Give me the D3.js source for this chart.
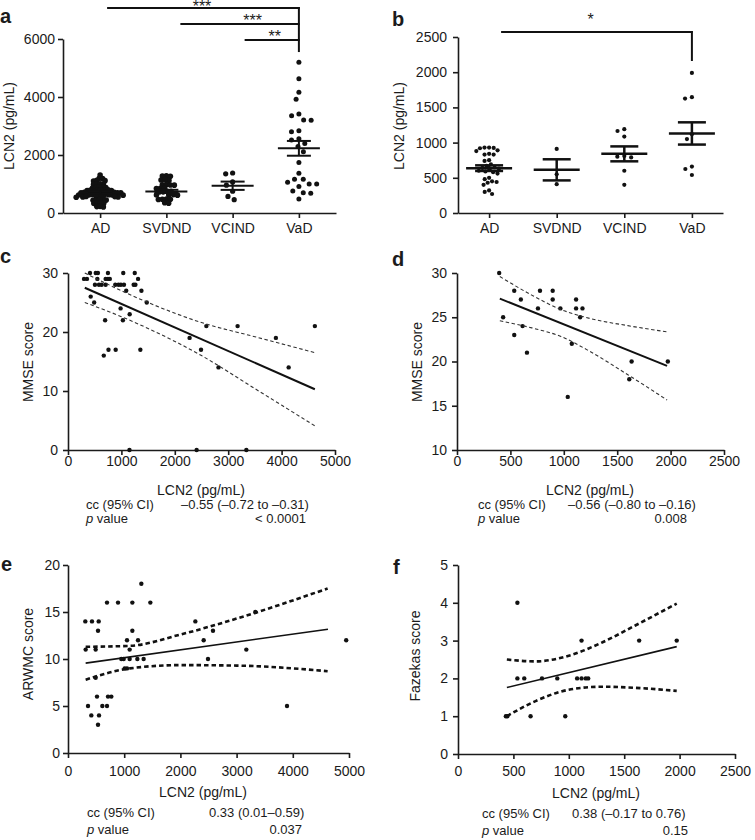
<!DOCTYPE html>
<html><head><meta charset="utf-8">
<script src="https://cdn.jsdelivr.net/npm/d3@7"></script>
<style>
body{margin:0;background:#fff;}
svg text{font-family:"Liberation Sans",Arial,Helvetica,sans-serif;fill:#1b1b1b;}
</style></head><body>
<svg id="chart" width="755" height="840"></svg>
<script>
// ---------------- DATA ----------------
const groups = ["AD", "SVDND", "VCIND", "VaD"];

// panel a : LCN2 (pg/mL) per group
const aAD = [1310, 1190, 1200, 1105, 1115, 1125, 990, 1000, 1005, 1010, 870, 880, 885, 890, 900,
  770, 775, 780, 785, 790, 795, 800, 690, 695, 700, 705, 710, 715, 720, 700,
  610, 615, 620, 625, 630, 635, 640, 620, 545, 550, 555, 560, 565, 570, 575,
  440, 445, 450, 455, 460, 330, 335, 340, 350, 210, 220, 230];
const aSVDND = [1280, 1265, 1275, 1140, 1125, 1150, 975, 960, 985, 965, 855, 860, 845,
  745, 730, 750, 725, 625, 635, 615, 620, 480, 470, 465, 475, 355, 335];
const aVCIND = [1350, 1380, 1070, 960, 750, 570, 460];
const aVaD = [5200, 4630, 4160, 3920, 3410, 3210, 3200, 3350, 2800, 2840, 2520, 2560, 2400, 2290,
  2110, 1740, 1370, 1060, 1000, 1160, 1000, 1160, 910, 700, 680, 760, 480];
const aMean = [711, 745, 940, 2230];
const aSem = [40, 55, 143, 255];
const aTicks = [0, 2000, 4000, 6000];
const aSigFrom = ["AD", "SVDND", "VCIND"];
const aSigTo = "VaD";
const aSigLabel = ["***", "***", "**"];
const aSigLevel = [7070, 6520, 5965];
const aSigDrop = 5550;

// panel b
const bAD = [930, 930, 925, 920, 890, 880, 840, 830, 830, 750, 740, 690, 670, 650, 640, 630, 620,
  600, 590, 580, 560, 500, 480, 450, 440, 430, 400, 320, 300, 270];
const bSVDND = [910, 550, 410];
const bVCIND = [1165, 1190, 1085, 810, 790, 800, 600, 400];
const bVaD = [1990, 1625, 1645, 1120, 1050, 660, 625, 540];
const bMean = [637, 613, 840, 1130];
const bSem = [40, 150, 106, 158];
const bTicks = [0, 500, 1000, 1500, 2000, 2500];
const bSigFrom = ["AD"];
const bSigTo = "VaD";
const bSigLabel = ["*"];
const bSigLevel = [2571];
const bSigDrop = 2159;

// panel c : MMSE vs LCN2
const cLCN2 = [505, 580, 630, 705, 885, 945, 990, 1048, 1230, 1262,
  300, 355, 550, 705, 748, 783, 1312,
  412, 520, 560, 748, 1035, 1250,
  1090, 1375, 425, 490, 1475, 985, 1155, 695, 1028,
  758, 893, 1355, 2491, 670, 1151, 2409, 3340, 2277, 3893, 2591, 3176, 4623, 2818, 4132];
const cMMSE = [28, 28, 28, 28, 28, 28, 28, 28, 28, 28,
  29, 29, 29, 29, 29, 29, 29,
  30, 30, 30, 30, 30, 30,
  27, 27, 26, 25, 25, 24, 23, 22, 22,
  17, 17, 17, 17, 16, 0, 0, 0, 19, 19, 21, 21, 21, 14, 14];
const cFitX = [314, 4623];
const cFitY = [27.5, 10.3];
const cCiX = [314, 1000, 1500, 2500, 3500, 4623];
const cCiUpper = [30.0, 27.0, 25.0, 21.6, 19.2, 16.5];
const cCiLower = [25.0, 22.6, 20.6, 16.0, 10.4, 4.1];
const cXTicks = [0, 1000, 2000, 3000, 4000, 5000];
const cYTicks = [0, 10, 20, 30];
const cStats = ["cc (95% CI)", "\u20130.55 (\u20130.72 to \u20130.31)", "< 0.0001"];

// panel d
const dLCN2 = [395, 432, 536, 536, 598, 614, 655, 758, 777, 896, 896, 968, 1037, 1075, 1115, 1115,
  1153, 1175, 1613, 1635, 1974];
const dMMSE = [30, 25, 28, 23, 27, 24, 21, 26, 28, 28, 27, 26, 16, 22, 27, 26, 25, 26, 18, 20, 20];
const dFitX = [401, 1967];
const dFitY = [27.1, 19.5];
const dCiX = [401, 700, 968, 1250, 1600, 1967];
const dCiUpper = [29.6, 27.5, 25.9, 24.85, 24.05, 23.35];
const dCiLower = [24.6, 23.8, 22.85, 21.1, 18.5, 15.65];
const dXTicks = [0, 500, 1000, 1500, 2000, 2500];
const dYTicks = [10, 15, 20, 25, 30];
const dStats = ["cc (95% CI)", "\u20130.56 (\u20130.80 to \u20130.16)", "0.008"];

// panel e : ARWMC vs LCN2
const eLCN2 = [1305, 694, 890, 1145, 1465, 308, 427, 546, 534, 1145, 1050, 1246, 314, 492, 1097,
  949, 991, 1097, 1234, 1346, 1050, 1008, 492, 516, 712, 771, 356, 611, 694, 415, 552, 534,
  2266, 2414, 2580, 2491, 3173, 3333, 3897, 4950];
const eARWMC = [18, 16, 16, 16, 16, 14, 14, 14, 13, 13, 12, 12, 11, 11, 11,
  10, 10, 10, 10, 10, 9, 9, 8, 6, 6, 6, 5, 5, 5, 4, 4, 3,
  14, 12, 13, 10, 11, 15, 5, 12];
const eFitX = [314, 4626];
const eFitY = [9.56, 13.17];
const eCiX = [314, 1100, 2000, 3000, 4620];
const eCiUpper = [11.3, 11.4, 12.6, 14.3, 17.5];
const eCiLower = [7.8, 9.0, 9.35, 9.3, 8.7];
const eXTicks = [0, 1000, 2000, 3000, 4000, 5000];
const eYTicks = [0, 5, 10, 15, 20];
const eStats = ["cc (95% CI)", "0.33 (0.01\u20130.59)", "0.037"];

// panel f : Fazekas vs LCN2
const fLCN2 = [432, 445, 655, 968, 536, 536, 598, 758, 896, 1075, 1115, 1153, 1175, 1115, 1635, 1974];
const fFazekas = [1, 1, 1, 1, 4, 2, 2, 2, 2, 2, 2, 2, 2, 3, 3, 3];
const fFitX = [441, 1974];
const fFitY = [1.76, 2.84];
const fCiX = [441, 700, 1000, 1300, 1600, 1974];
const fCiUpper = [2.5, 2.45, 2.6, 2.95, 3.4, 3.98];
const fCiLower = [1.0, 1.4, 1.7, 1.78, 1.75, 1.67];
const fXTicks = [0, 500, 1000, 1500, 2000, 2500];
const fYTicks = [0, 1, 2, 3, 4, 5];
const fStats = ["cc (95% CI)", "0.38 (\u20130.17 to 0.76)", "0.15"];

// ---------------- DRAWING ----------------
const svg = d3.select("#chart");
const ink = "#1b1b1b";

function styleAxis(g, fs) {
  g.attr("font-size", null).attr("font-family", null);
  g.selectAll(".domain").attr("stroke", ink).attr("stroke-width", 1.6);
  g.selectAll(".tick line").attr("stroke", ink).attr("stroke-width", 1.6);
  g.selectAll(".tick text").attr("fill", ink).style("font-size", fs + "px");
}
function letter(t, x, y) {
  svg.append("text").attr("x", x).attr("y", y).style("font-size", "20px").style("font-weight", "bold").text(t);
}
function yTitle(t, x, y) {
  svg.append("text").attr("transform", `translate(${x},${y}) rotate(-90)`)
    .attr("text-anchor", "middle").style("font-size", "14px").text(t);
}
function xTitle(t, x, y) {
  svg.append("text").attr("x", x).attr("y", y).attr("text-anchor", "middle").style("font-size", "14px").text(t);
}

function swarm(ys, D) {
  const order = d3.range(ys.length).sort((i, j) => ys[i] - ys[j]);
  const placed = [], xs = new Array(ys.length);
  for (const i of order) {
    const y = ys[i], ints = [];
    for (const p of placed) {
      const dy = Math.abs(p.y - y);
      if (dy < D) { const w = Math.sqrt(D * D - dy * dy); ints.push([p.x - w, p.x + w]); }
    }
    const cands = [0];
    ints.forEach(([a, b]) => cands.push(a, b));
    cands.sort((a, b) => Math.abs(a) - Math.abs(b) || a - b);
    let best = 0;
    for (const c of cands) {
      if (ints.every(([a, b]) => c <= a + 1e-6 || c >= b - 1e-6)) { best = c; break; }
    }
    xs[i] = best; placed.push({ x: best, y });
  }
  return xs;
}

function catPanel(o) {
  const x = d3.scalePoint().domain(groups).range(o.xRange).padding(o.pad);
  const y = d3.scaleLinear().domain(o.yDomain).range(o.yRange);
  const g = svg.append("g");
  const ya = g.append("g").attr("transform", `translate(${o.xRange[0]},0)`)
    .call(d3.axisLeft(y).tickValues(o.yTicks).tickSize(5).tickSizeOuter(0).tickPadding(o.yPad).tickFormat(d3.format("d")));
  styleAxis(ya, 14);
  const xa = g.append("g").attr("transform", `translate(0,${o.yRange[0]})`)
    .call(d3.axisBottom(x).tickSize(5).tickSizeOuter(0).tickPadding(o.xPad));
  styleAxis(xa, 14);
  // dots
  o.data.forEach((vals, i) => {
    const ys = vals.map(v => y(v));
    const xs = swarm(ys, o.D[i]);
    g.append("g").selectAll("circle").data(vals).join("circle")
      .attr("cx", (d, k) => x(groups[i]) + xs[k]).attr("cy", (d, k) => ys[k])
      .attr("r", o.r[i]).attr("fill", "#111");
  });
  // mean ± SEM
  groups.forEach((gn, i) => {
    const cx = x(gn), m = o.mean[i], s = o.sem[i];
    const lg = g.append("g").attr("stroke", "#111").attr("stroke-width", o.lw);
    lg.append("line").attr("x1", cx - o.mw).attr("x2", cx + o.mw).attr("y1", y(m)).attr("y2", y(m));
    lg.append("line").attr("x1", cx - o.sw).attr("x2", cx + o.sw).attr("y1", y(m + s)).attr("y2", y(m + s));
    lg.append("line").attr("x1", cx - o.sw).attr("x2", cx + o.sw).attr("y1", y(m - s)).attr("y2", y(m - s));
    lg.append("line").attr("x1", cx).attr("x2", cx).attr("y1", y(m - s)).attr("y2", y(m + s));
  });
  // significance brackets
  const sg = g.append("g");
  o.sigFrom.forEach((f, i) => {
    const yy = y(o.sigLevel[i]);
    sg.append("line").attr("x1", x(f) + o.sigDx[i]).attr("x2", x(o.sigTo) + 0.8)
      .attr("y1", yy).attr("y2", yy).attr("stroke", "#111").attr("stroke-width", 2);
    sg.append("text").attr("x", (x(f) + o.sigDx[i] + x(o.sigTo)) / 2 + o.sigLx[i]).attr("y", yy + o.sigLy[i])
      .attr("text-anchor", "middle").style("font-size", "16px").text(o.sigLabel[i]);
  });
  sg.append("line").attr("x1", x(o.sigTo)).attr("x2", x(o.sigTo))
    .attr("y1", y(d3.max(o.sigLevel)) - 1).attr("y2", y(o.sigDrop)).attr("stroke", "#111").attr("stroke-width", 2);
}

catPanel({
  xRange: [63, 336], pad: 0.56, yDomain: [0, 6000], yRange: [213, 39], yTicks: aTicks, yPad: 3, xPad: 5,
  data: [aAD, aSVDND, aVCIND, aVaD], r: [2.8, 2.8, 2.6, 2.5], D: [3.3, 4.0, 7, 7.5], mean: aMean, sem: aSem, mw: 21, sw: 12, lw: 2,
  sigFrom: aSigFrom, sigTo: aSigTo, sigLabel: aSigLabel, sigLevel: aSigLevel, sigDrop: aSigDrop,
  sigDx: [7, 14, 12], sigLx: [-1, 13, 3], sigLy: [4, 1.8, 1.8]
});
catPanel({
  xRange: [458, 723], pad: 0.46, yDomain: [0, 2500], yRange: [213, 37], yTicks: bTicks, yPad: 6, xPad: 5,
  data: [bAD, bSVDND, bVCIND, bVaD], r: [2.1, 2.1, 2.1, 2.1], D: [4.6, 6, 7, 7], mean: bMean, sem: bSem, mw: 23, sw: 14, lw: 2.5,
  sigFrom: bSigFrom, sigTo: bSigTo, sigLabel: bSigLabel, sigLevel: bSigLevel, sigDrop: bSigDrop,
  sigDx: [12], sigLx: [-6], sigLy: [-7.5]
});

function scatPanel(o) {
  const x = d3.scaleLinear().domain([o.xTicks[0], o.xTicks[o.xTicks.length - 1]]).range(o.xRange);
  const y = d3.scaleLinear().domain([o.yTicks[0], o.yTicks[o.yTicks.length - 1]]).range(o.yRange);
  const g = svg.append("g");
  const ya = g.append("g").attr("transform", `translate(${o.xRange[0]},0)`)
    .call(d3.axisLeft(y).tickValues(o.yTicks).tickSize(5).tickSizeOuter(0).tickPadding(o.yPad).tickFormat(d3.format("d")));
  styleAxis(ya, 14);
  const xa = g.append("g").attr("transform", `translate(0,${o.yRange[0]})`)
    .call(d3.axisBottom(x).tickValues(o.xTicks).tickSize(5).tickSizeOuter(0).tickPadding(o.xPad).tickFormat(d3.format("d")));
  styleAxis(xa, 14);
  g.append("g").selectAll("circle").data(o.xs).join("circle")
    .attr("cx", d => x(d)).attr("cy", (d, i) => y(o.ys[i])).attr("r", 2.2).attr("fill", "#111");
  const line = d3.line().x(d => x(d[0])).y(d => y(d[1]));
  g.append("path").attr("d", line(d3.zip(o.fitX, o.fitY))).attr("fill", "none")
    .attr("stroke", "#111").attr("stroke-width", o.fitW);
  const cl = d3.line().x(d => x(d[0])).y(d => y(d[1])).curve(d3.curveMonotoneX);
  [o.ciU, o.ciL].forEach(arr => {
    g.append("path").attr("d", cl(d3.zip(o.ciX, arr))).attr("fill", "none")
      .attr("stroke", o.ciColor).attr("stroke-width", o.ciW).attr("stroke-dasharray", o.ciDash);
  });
  xTitle("LCN2 (pg/mL)", o.xtX, o.xtY);
  const fs = "13px";
  svg.append("text").attr("x", o.sx0).attr("y", o.sy[0]).style("font-size", fs).text(o.stats[0]);
  svg.append("text").attr("x", o.sx1).attr("y", o.sy[0]).style("font-size", fs).text(o.stats[1]);
  const pt = svg.append("text").attr("x", o.sx0).attr("y", o.sy[1]).style("font-size", fs);
  pt.append("tspan").style("font-style", "italic").text("p");
  pt.append("tspan").text(" value");
  svg.append("text").attr("x", o.sx2).attr("y", o.sy[1]).attr("text-anchor", "end").style("font-size", fs).text(o.stats[2]);
}

scatPanel({
  xRange: [68, 335], yRange: [450, 273], xTicks: cXTicks, yTicks: cYTicks, yPad: 5, xPad: 1,
  xs: cLCN2, ys: cMMSE, fitX: cFitX, fitY: cFitY, fitW: 2, ciX: cCiX, ciU: cCiUpper, ciL: cCiLower,
  ciColor: "#333", ciW: 1.1, ciDash: "3.5,2.5", xtX: 201, xtY: 495, stats: cStats,
  sx0: 86, sx1: 181, sx2: 306, sy: [509, 523]
});
scatPanel({
  xRange: [457, 724], yRange: [450, 273], xTicks: dXTicks, yTicks: dYTicks, yPad: 5, xPad: 1,
  xs: dLCN2, ys: dMMSE, fitX: dFitX, fitY: dFitY, fitW: 2, ciX: dCiX, ciU: dCiUpper, ciL: dCiLower,
  ciColor: "#333", ciW: 1.1, ciDash: "3.5,2.5", xtX: 590, xtY: 495, stats: dStats,
  sx0: 478, sx1: 568, sx2: 687, sy: [509, 523]
});
scatPanel({
  xRange: [68, 349], yRange: [753, 565], xTicks: eXTicks, yTicks: eYTicks, yPad: 3, xPad: 8,
  xs: eLCN2, ys: eARWMC, fitX: eFitX, fitY: eFitY, fitW: 1.6, ciX: eCiX, ciU: eCiUpper, ciL: eCiLower,
  ciColor: "#111", ciW: 2.6, ciDash: "4.5,3", xtX: 203, xtY: 797, stats: eStats,
  sx0: 87, sx1: 209, sx2: 302, sy: [817, 834]
});
scatPanel({
  xRange: [458, 735], yRange: [754, 565], xTicks: fXTicks, yTicks: fYTicks, yPad: 5, xPad: 7,
  xs: fLCN2, ys: fFazekas, fitX: fFitX, fitY: fFitY, fitW: 1.6, ciX: fCiX, ciU: fCiUpper, ciL: fCiLower,
  ciColor: "#111", ciW: 2.6, ciDash: "4.5,3", xtX: 596, xtY: 798, stats: fStats,
  sx0: 482, sx1: 572, sx2: 688, sy: [818, 835]
});

yTitle("LCN2 (pg/mL)", 14, 126);
yTitle("LCN2 (pg/mL)", 404, 126);
yTitle("MMSE score", 33, 362);
yTitle("MMSE score", 422, 362);
yTitle("ARWMC score", 33, 654);
yTitle("Fazekas score", 420, 656);

letter("a", 0, 23);
letter("b", 392, 26);
letter("c", 0, 263);
letter("d", 392, 266);
letter("e", 1, 571);
letter("f", 393, 574);
</script>
</body></html>
